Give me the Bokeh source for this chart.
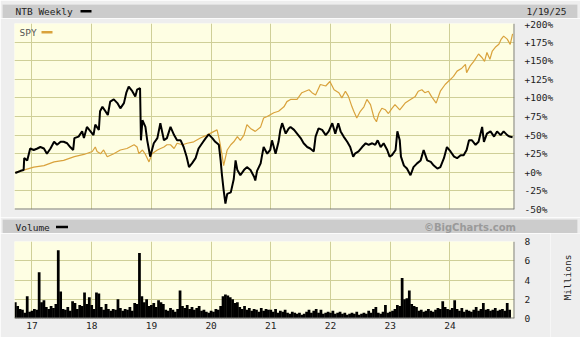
import math
from bokeh.plotting import figure
from bokeh.models import Range1d, FixedTicker, Label, BoxAnnotation, Span, Grid, ColumnDataSource
from bokeh.layouts import column, row
from bokeh.embed import file_html
from bokeh.resources import INLINE

# ---------------- data ----------------
chart_title = "NTB Weekly"
chart_date = "1/19/25"
compare_name = "SPY"
volume_title = "Volume"
credit = "\u00a9BigCharts.com"
volume_unit = "Millions"

# NTB weekly % change (decimal year, percent)
ntb_t = [2016.72, 2016.81, 2016.86, 2016.87, 2016.92, 2016.97, 2017.03, 2017.09, 2017.14, 2017.20,
         2017.25, 2017.31, 2017.37, 2017.42, 2017.48, 2017.53, 2017.59, 2017.64, 2017.69, 2017.71,
         2017.78, 2017.84, 2017.87, 2017.92, 2017.98, 2018.03, 2018.06, 2018.12, 2018.14, 2018.18,
         2018.23, 2018.27, 2018.31, 2018.37, 2018.43, 2018.48, 2018.54, 2018.58, 2018.62, 2018.68,
         2018.73, 2018.76, 2018.81, 2018.825, 2018.85, 2018.90, 2018.93, 2018.96, 2018.98, 2019.04,
         2019.10, 2019.15, 2019.21, 2019.26, 2019.32, 2019.38, 2019.43, 2019.49, 2019.54, 2019.59,
         2019.63, 2019.68, 2019.74, 2019.79, 2019.85, 2019.91, 2019.96, 2020.02, 2020.07, 2020.13,
         2020.16, 2020.18, 2020.21, 2020.24, 2020.27, 2020.33, 2020.38, 2020.41, 2020.44, 2020.49,
         2020.55, 2020.60, 2020.66, 2020.72, 2020.74, 2020.77, 2020.83, 2020.85, 2020.88, 2020.94,
         2020.99, 2021.02, 2021.08, 2021.13, 2021.16, 2021.19, 2021.25, 2021.30, 2021.33, 2021.39,
         2021.44, 2021.50, 2021.55, 2021.61, 2021.66, 2021.72, 2021.75, 2021.80, 2021.86, 2021.92,
         2021.97, 2022.03, 2022.08, 2022.13, 2022.17, 2022.22, 2022.28, 2022.33, 2022.38, 2022.41,
         2022.47, 2022.53, 2022.59, 2022.64, 2022.70, 2022.75, 2022.79, 2022.84, 2022.89, 2022.95,
         2022.99, 2023.03, 2023.09, 2023.12, 2023.16, 2023.18, 2023.23, 2023.28, 2023.34, 2023.39,
         2023.45, 2023.51, 2023.56, 2023.62, 2023.68, 2023.73, 2023.79, 2023.84, 2023.90, 2023.95,
         2024.01, 2024.07, 2024.12, 2024.18, 2024.23, 2024.28, 2024.32, 2024.37, 2024.43, 2024.48,
         2024.54, 2024.57, 2024.62, 2024.68, 2024.74, 2024.79, 2024.85, 2024.90, 2024.96, 2025.00,
         2025.05]
ntb_pct = [-1, 2, 3, 19, 16, 32, 30, 32, 34, 32,
           25, 32, 41, 37, 41, 41, 39, 34, 30, 46,
           48, 55, 46, 61, 55, 50, 64, 57, 82, 88,
           82, 77, 95, 98, 93, 86, 93, 107, 115, 109,
           102, 111, 113, 43, 70, 61, 43, 30, 21, 39,
           46, 66, 43, 46, 61, 50, 43, 43, 34, 21,
           7, 12, 19, 32, 39, 46, 51, 46, 41, 37,
           16, -2, -24, -42, -29, -27, -9, 16, 3, -4,
           3, 7, 3, -6, -11, 2, 12, 21, 34, 25,
           30, 43, 25, 41, 57, 66, 52, 59, 61, 57,
           52, 46, 39, 34, 32, 28, 48, 59, 57, 50,
           55, 66, 52, 66, 55, 48, 41, 34, 21, 25,
           28, 34, 39, 37, 39, 37, 43, 34, 39, 30,
           21, 23, 30, 55, 43, 21, 9, 5, -4, 7,
           12, 16, 30, 16, 14, 9, 5, 7, 19, 34,
           28, 21, 19, 23, 23, 30, 43, 43, 37, 41,
           61, 41, 52, 55, 48, 55, 50, 55, 50, 48,
           47]

# SPY % change (decimal year, percent)
spy_t = [2016.72, 2016.86, 2017.03, 2017.20, 2017.37, 2017.53, 2017.71, 2017.87, 2018.01, 2018.06,
         2018.09, 2018.15, 2018.20, 2018.26, 2018.37, 2018.48, 2018.59, 2018.71, 2018.76, 2018.79,
         2018.85, 2018.90, 2018.96, 2019.01, 2019.10, 2019.21, 2019.26, 2019.32, 2019.38, 2019.43,
         2019.52, 2019.60, 2019.71, 2019.82, 2019.93, 2020.05, 2020.10, 2020.14, 2020.18, 2020.21,
         2020.27, 2020.33, 2020.38, 2020.44, 2020.49, 2020.55, 2020.60, 2020.66, 2020.74, 2020.83,
         2020.88, 2020.94, 2021.05, 2021.13, 2021.22, 2021.27, 2021.33, 2021.44, 2021.52, 2021.64,
         2021.69, 2021.75, 2021.83, 2021.92, 2021.99, 2022.06, 2022.14, 2022.19, 2022.25, 2022.30,
         2022.36, 2022.39, 2022.44, 2022.50, 2022.56, 2022.61, 2022.67, 2022.73, 2022.77, 2022.81,
         2022.86, 2022.92, 2022.97, 2023.03, 2023.08, 2023.16, 2023.25, 2023.34, 2023.42, 2023.47,
         2023.53, 2023.58, 2023.64, 2023.69, 2023.77, 2023.84, 2023.92, 2024.01, 2024.06, 2024.12,
         2024.20, 2024.26, 2024.28, 2024.34, 2024.40, 2024.48, 2024.54, 2024.58, 2024.62, 2024.67,
         2024.71, 2024.76, 2024.82, 2024.86, 2024.90, 2024.96, 2025.01, 2025.05]
spy_pct = [0, 3, 7, 9, 14, 16, 21, 24, 28, 34,
           28, 25, 30, 21, 25, 30, 32, 37, 34, 25,
           30, 24, 14, 25, 30, 34, 37, 37, 32, 39,
           37, 39, 41, 46, 50, 55, 57, 43, 25, 9,
           30, 37, 41, 48, 43, 50, 64, 59, 55, 61,
           73, 75, 80, 82, 88, 95, 98, 98, 107, 111,
           107, 104, 118, 116, 122, 111, 107, 100, 109, 102,
           88, 82, 73, 82, 88, 98, 91, 73, 68, 79,
           86, 84, 79, 86, 91, 84, 93, 98, 102, 109,
           111, 107, 109, 102, 93, 109, 118, 125, 129, 136,
           140, 145, 134, 143, 149, 159, 154, 149, 161, 152,
           163, 168, 172, 179, 183, 179, 172, 186]

# Volume, millions of shares, one value every ~2 weeks starting at vol_start
vol_start = 2016.72
vol_step = 0.04
volume = [1.7, 1.3, 1.0, 0.9, 0.6, 2.3, 0.7,
          0.8, 1.0, 0.9, 4.8, 1.7, 1.9, 1.2, 1.0, 1.3, 1.1, 1.5, 7.1, 2.8, 1.0, 0.9, 1.2, 0.8, 1.8, 1.6, 1.0, 1.4, 1.3, 2.7, 1.5, 2.2,
          1.4, 1.0, 2.7, 2.6, 1.2, 0.9, 1.5, 1.0, 0.8, 1.0, 0.9, 2.0, 1.1, 0.8, 1.0, 0.9, 1.2, 0.8, 1.6, 1.5, 6.8, 2.3, 1.7, 2.0, 1.3,
          1.4, 1.6, 1.2, 1.9, 1.7, 1.5, 0.9, 0.8, 1.1, 0.9, 0.7, 1.0, 2.9, 1.3, 1.1, 1.4, 1.0, 1.2, 0.9, 1.1, 1.3, 0.8, 0.9, 0.7, 0.6,
          0.8, 0.7, 1.0, 0.9, 1.3, 2.3, 2.5, 2.4, 2.2, 2.0, 1.6, 1.7, 1.2, 1.0, 1.3, 0.9, 1.1, 0.8, 1.0, 0.9, 0.7, 1.1, 0.8, 1.0, 0.9,
          0.9, 0.7, 1.0, 0.6, 0.8, 0.7, 0.9, 0.6, 0.5, 0.7, 0.6, 0.5, 0.6, 0.4, 0.5, 0.7, 0.9, 0.6, 0.8, 1.0, 0.6, 0.9, 0.5, 0.6, 0.7,
          0.6, 0.8, 0.5, 0.6, 0.7, 0.5, 0.6, 0.4, 0.5, 0.6, 0.5, 0.7, 0.4, 0.5, 0.6, 0.5, 0.8, 0.6, 1.0, 1.2, 0.6, 0.5, 0.7, 1.4, 0.6,
          0.7, 0.8, 1.0, 1.4, 1.3, 4.2, 2.0, 2.1, 2.9, 1.5, 1.3, 1.2, 0.8, 0.9, 0.7, 0.8, 1.0, 0.8, 0.7, 0.9, 1.1, 1.0, 1.8, 1.2, 1.0,
          0.9, 1.1, 1.9, 1.0, 0.8, 1.1, 0.7, 0.9, 0.8, 0.7, 0.9, 1.2, 0.8, 1.0, 1.6, 0.9, 1.0, 0.8, 0.9, 1.1, 0.8, 0.9, 1.0, 0.8, 1.6,
          0.9]

year_ticks = [2017, 2018, 2019, 2020, 2021, 2022, 2023, 2024]
year_labels = ["17", "18", "19", "20", "21", "22", "23", "24"]
pct_ticks = [-50, -25, 0, 25, 50, 75, 100, 125, 150, 175, 200]
pct_labels = ["-50%", "-25%", "+0%", "+25%", "+50%", "+75%", "+100%", "+125%", "+150%", "+175%", "+200%"]
vol_ticks = [0, 2, 4, 6, 8]

# ---------------- styles ----------------
MONO = "DejaVu Sans Mono"
FS = "9.5px"
BG = "#eeeeee"
PLOT_BG = "#fefee3"
GRID = "#cfcf98"
HEADER = "#cccccc"
SHADOW = "#7a7a7a"
SPY_COLOR = "#d9a23c"
X0, X1 = 2016.707, 2025.082
W = 580
SIDE_W = 30


def no_align(fig):
    if "frame_align" in fig.properties():
        fig.frame_align = False
    return fig


def canvas_box(fig, l, r, t, b, color):
    fig.add_layout(BoxAnnotation(left=l, right=r, top=t, bottom=b,
                                 left_units="canvas", right_units="canvas",
                                 top_units="canvas", bottom_units="canvas",
                                 fill_color=color, fill_alpha=1.0, line_color=None))


def canvas_label(fig, x, y, text, align="left", color="#222222", font=MONO, size=FS,
                 style="normal", angle=0.0):
    fig.add_layout(Label(x=x, y=y, x_units="canvas", y_units="canvas", text=text,
                         text_align=align, text_baseline="middle", text_color=color,
                         text_font=font, text_font_size=size, text_font_style=style,
                         angle=angle))


def style_right_axis(ax):
    ax.axis_line_color = None
    ax.major_tick_line_color = None
    ax.minor_tick_line_color = None
    ax.major_tick_out = 0
    ax.major_tick_in = 0
    ax.major_label_standoff = 10
    ax.major_label_text_font = MONO
    ax.major_label_text_font_size = FS
    ax.major_label_text_color = "#222222"


def blank_fig(width, height, fill, left=0, right=0, top=0, bottom=0):
    h = figure(width=width, height=height, x_range=Range1d(0, 1), y_range=Range1d(0, 1),
               output_backend="svg", toolbar_location=None,
               min_border_left=left, min_border_right=right, min_border_top=top,
               min_border_bottom=bottom,
               background_fill_color=fill, border_fill_color=BG, outline_line_color=None,
               x_axis_location=None, y_axis_location=None)
    h.grid.visible = False
    return no_align(h)


# ---------------- header bar 1 ----------------
h1 = blank_fig(W, 18, HEADER, left=2, right=3, top=4)
canvas_label(h1, 15, 11, chart_title)
canvas_box(h1, 80, 91, 9.5, 12, "black")
canvas_label(h1, 566, 11, chart_date, align="right")

# ---------------- main price panel ----------------
p = figure(width=W, height=199, x_range=Range1d(X0, X1), y_range=Range1d(-50, 200),
           output_backend="svg", toolbar_location=None,
           min_border_left=14, min_border_right=66, min_border_top=5, min_border_bottom=8,
           background_fill_color=PLOT_BG, border_fill_color=BG, outline_line_color=None,
           x_axis_location=None, y_axis_location="right")
no_align(p)
p.yaxis.ticker = FixedTicker(ticks=pct_ticks)
p.yaxis.major_label_overrides = dict(zip(pct_ticks, pct_labels))
style_right_axis(p.yaxis[0])
p.ygrid.ticker = FixedTicker(ticks=pct_ticks)
p.ygrid.grid_line_color = GRID
p.add_layout(Grid(dimension=0, ticker=FixedTicker(ticks=year_ticks), grid_line_color=GRID))

p.line(spy_t, spy_pct, line_color=SPY_COLOR, line_width=1.2)
p.line(ntb_t, ntb_pct, line_color="black", line_width=2)

p.add_layout(Span(location=-50, dimension="width", line_color=SHADOW, line_width=2))
p.add_layout(Span(location=X1, dimension="height", line_color=SHADOW, line_width=2))

canvas_label(p, 19, 14, compare_name, color="#555555")
canvas_box(p, 41, 52, 12.5, 15, SPY_COLOR)

# ---------------- header bar 2 ----------------
h2 = blank_fig(W, 16, HEADER, left=2, right=3, top=2)
canvas_label(h2, 15, 9.5, volume_title)
canvas_box(h2, 55.5, 67.5, 8.3, 10.8, "black")
canvas_label(h2, 515.5, 9.5, credit, align="right", color="#9a9a9a",
             font="DejaVu Sans", size="10px", style="bold")

# ---------------- volume panel ----------------
vol_x = [vol_start + i * vol_step for i in range(len(volume))]
src = ColumnDataSource(dict(x=vol_x, v=volume))

pv = figure(width=W - SIDE_W, height=104, x_range=p.x_range, y_range=Range1d(0, 8),
            output_backend="svg", toolbar_location=None,
            min_border_left=14, min_border_right=66 - SIDE_W, min_border_top=8, min_border_bottom=19,
            background_fill_color=PLOT_BG, border_fill_color=BG, outline_line_color=None,
            y_axis_location="right")
no_align(pv)
pv.yaxis.ticker = FixedTicker(ticks=vol_ticks)
style_right_axis(pv.yaxis[0])
pv.ygrid.ticker = FixedTicker(ticks=vol_ticks)
pv.ygrid.grid_line_color = GRID

pv.xaxis.ticker = FixedTicker(ticks=year_ticks)
pv.xaxis.major_label_overrides = dict(zip(year_ticks, year_labels))
pv.xaxis.axis_line_color = None
pv.xaxis.major_tick_line_color = None
pv.xaxis.minor_tick_line_color = None
pv.xaxis.major_tick_out = 0
pv.xaxis.major_tick_in = 0
pv.xaxis.major_label_standoff = 3
pv.xaxis.major_label_text_font = MONO
pv.xaxis.major_label_text_font_size = FS
pv.xaxis.major_label_text_color = "#222222"
pv.xgrid.ticker = FixedTicker(ticks=year_ticks)
pv.xgrid.grid_line_color = GRID

pv.vbar(x="x", top="v", bottom=0, width=vol_step * 1.15, source=src,
        fill_color="black", line_color=None)

pv.add_layout(Span(location=0, dimension="width", line_color=SHADOW, line_width=2))
pv.add_layout(Span(location=X1, dimension="height", line_color=SHADOW, line_width=2))

# side strip carrying the rotated unit label of the volume axis
side = blank_fig(SIDE_W, 104, BG)
canvas_label(side, 17, 44, volume_unit, align="center", angle=math.pi / 2)

layout = column(h1, p, h2, row(pv, side, spacing=0), spacing=0)
open("out.html", "w").write(file_html(layout, INLINE))
